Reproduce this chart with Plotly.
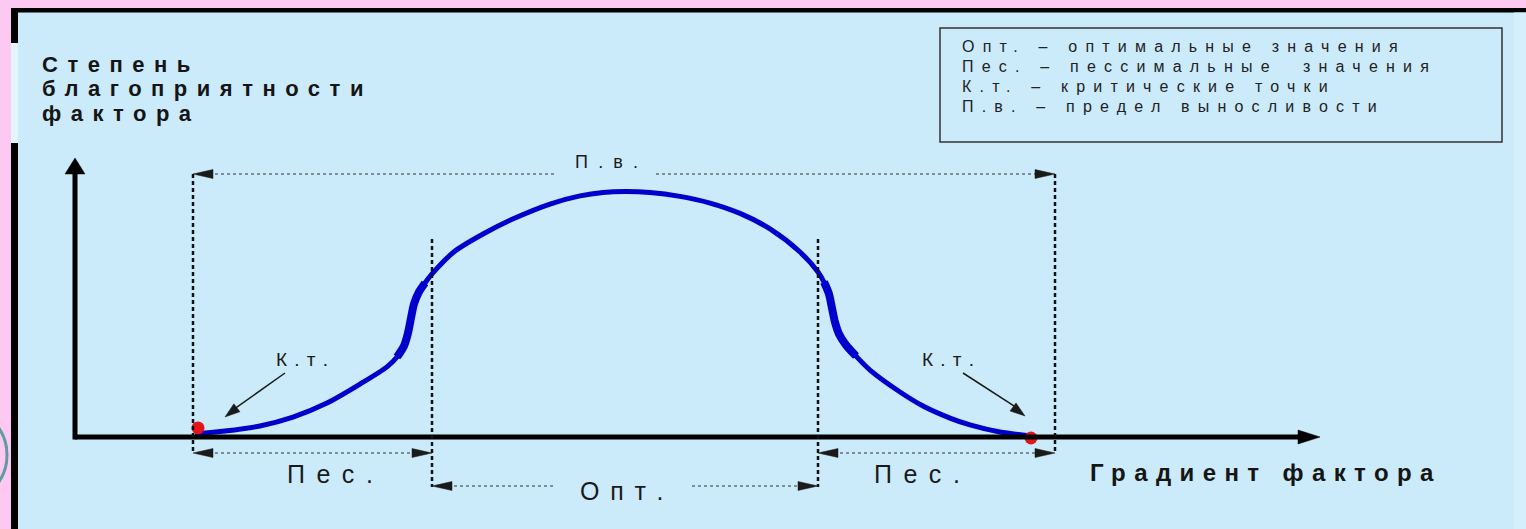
import plotly.graph_objects as go

# ---------------- data ----------------
# x: factor gradient (arbitrary units, 0 = vertical axis)
# y: degree of favourability (arbitrary units, 0 = horizontal axis, peak = 100)
gradient = [12.0, 15.0, 18.5, 21.8, 25.2, 28.5, 31.2, 32.2, 32.9, 33.3, 33.6, 33.9,
            34.4, 35.0, 35.7, 38.0, 40.8, 44.0, 47.5, 50.5, 52.8, 55.0, 57.5, 60.5,
            63.5, 66.5, 69.5, 72.5, 74.3, 74.9, 75.4, 75.7, 76.0, 76.4, 77.1, 78.1,
            79.5, 82.5, 84.8, 87.5, 89.5, 92.5, 95.6]
favourability = [1.2, 2.4, 4.5, 8.1, 13.8, 21.5, 28.5, 32.5, 37.0, 42.3, 48.4, 54.1,
                 59.0, 62.6, 66.3, 75.6, 82.5, 89.0, 94.7, 98.0, 99.4, 99.8, 99.4, 97.8,
                 95.1, 90.9, 84.6, 75.2, 67.1, 63.0, 58.1, 52.4, 46.7, 41.9, 37.4, 32.9,
                 27.2, 18.3, 12.6, 7.7, 4.9, 2.0, 0.4]
critical_x = [12.3, 95.6]
critical_y = [3.7, -0.4]
tolerance_limits = [11.8, 98.0]     # П.в.
optimum_bounds = [35.7, 74.3]       # Опт.
steep_zones = [[32.1, 35.1], [74.8, 78.2]]

y_title_lines = ["Степень", "благоприятности", "фактора"]
x_title = "Градиент фактора"
legend_lines = ["Опт. – оптимальные значения",
                "Пес. – пессимальные \u00a0значения",
                "К.т. – критические точки",
                "П.в. – предел выносливости"]
label_tolerance = "П.в."
label_pessimum = "Пес."
label_optimum = "Опт."
label_critical = "К.т."

# ---------------- layout geometry ----------------
W, H = 1526, 529
X0_PX, X_SCALE = 75.0, 10.0
Y0_PX, Y_SCALE = 437.0, 2.46

def ux(p): return (p - X0_PX) / X_SCALE
def uy(p): return (Y0_PX - p) / Y_SCALE
def px(u): return X0_PX + u * X_SCALE
def py(v): return Y0_PX - v * Y_SCALE
def fx(p): return p / W
def fy(p): return 1 - p / H

BLUE_BG = "#CCEBFA"
PINK = "#FDC8F1"
CURVE = "#0000CC"
RED = "#E3151B"
INK = "#1A1A1A"
FONT = "Liberation Sans"

shapes = []
annotations = []

def rect_px(x0, y0, x1, y1, color):
    shapes.append(dict(type="rect", xref="paper", yref="paper", x0=fx(x0), x1=fx(x1),
                       y0=fy(y1), y1=fy(y0), fillcolor=color, line=dict(width=0), layer="below"))

def line_px(x0, y0, x1, y1, color=INK, width=1, dash="solid"):
    shapes.append(dict(type="line", xref="x", yref="y", x0=ux(x0), y0=uy(y0), x1=ux(x1), y1=uy(y1),
                       line=dict(color=color, width=width, dash=dash), layer="above"))

def head_px(tx, ty, dx, dy, L, w, color=INK):
    n = (dx * dx + dy * dy) ** 0.5
    dx, dy = dx / n, dy / n
    bx, by = tx - dx * L, ty - dy * L
    ax_, ay_ = bx - dy * w, by + dx * w
    cx, cy = bx + dy * w, by - dx * w
    path = f"M {ux(tx)} {uy(ty)} L {ux(ax_)} {uy(ay_)} L {ux(cx)} {uy(cy)} Z"
    shapes.append(dict(type="path", xref="x", yref="y", path=path, fillcolor=color,
                       line=dict(color=color, width=0.5), layer="above"))

def spaced(text, sp):
    if not sp:
        return text
    return f'<span style="letter-spacing:{sp}px">{text[:-1]}</span>{text[-1]}'

def text_px(x, y, text, size, sp=0, bold=False, anchor="center", color=INK):
    t = spaced(text, sp)
    if bold:
        t = "<b>" + t + "</b>"
    annotations.append(dict(x=ux(x), y=uy(y), xref="x", yref="y", text=t, showarrow=False,
                            xanchor=anchor, yanchor="middle",
                            font=dict(family=FONT, size=size, color=color)))

# ---- frame ----
rect_px(0, 0, W, 8, PINK)
rect_px(0, 0, 11, H, PINK)
shapes.append(dict(type="circle", xref="paper", yref="paper", x0=fx(-89), x1=fx(7),
                   y0=fy(503), y1=fy(407), line=dict(color="#5E9C9F", width=3), layer="below"))
rect_px(11, 8, W, 12.5, "#000000")
rect_px(11, 8, 18, 43, "#000000")
rect_px(11, 43, 18, 143, "#E4F4FC")
rect_px(11, 143, 18, H, "#000000")
rect_px(1514, 12.5, W, H, "#D6EFFC")

# ---- axes with arrows ----
line_px(75, 437, 1302, 437, "#000000", 5)
head_px(1320, 437, 1, 0, 22, 7, "#000000")
line_px(75, 439.5, 75, 172, "#000000", 5)
head_px(75, 158, 0, -1, 16, 10, "#000000")

# ---- dashed vertical guides ----
lim_l, lim_r = px(tolerance_limits[0]), px(tolerance_limits[1])
opt_l, opt_r = px(optimum_bounds[0]), px(optimum_bounds[1])
for xg in (lim_l, lim_r):
    line_px(xg, 174, xg, 453, "#111111", 2.5, "4px,3px")
for xg in (opt_l, opt_r):
    line_px(xg, 239, xg, 487, "#111111", 2.5, "4px,3px")

# ---- dimension lines ----
DOT = "#333333"
# П.в.
line_px(lim_l + 4, 174, 556, 174, DOT, 1.2, "dot")
line_px(656, 174, lim_r - 4, 174, DOT, 1.2, "dot")
head_px(lim_l, 174, -1, 0, 20, 4.5)
head_px(lim_r, 174, 1, 0, 20, 4.5)
text_px(606, 162, label_tolerance, 18, 10.2)
# Пес. (left and right)
for a, b in ((lim_l, opt_l), (opt_r, lim_r)):
    line_px(a + 4, 453, b - 4, 453, DOT, 1.2, "dot")
    head_px(a, 453, -1, 0, 20, 4.5)
    head_px(b, 453, 1, 0, 20, 4.5)
text_px((lim_l + opt_l) / 2 + 17, 474, label_pessimum, 25, 11.5)
text_px((opt_r + lim_r) / 2 - 20, 474, label_pessimum, 25, 11.5)
# Опт.
line_px(opt_l + 4, 486, 556, 486, DOT, 1.2, "dot")
line_px(692, 486, opt_r - 4, 486, DOT, 1.2, "dot")
head_px(opt_l, 486, -1, 0, 20, 4.5)
head_px(opt_r, 486, 1, 0, 20, 4.5)
text_px(622, 491, label_optimum, 25, 10.7)

# ---- critical point pointers ----
cl_x, cl_y = px(critical_x[0]), py(critical_y[0])
cr_x, cr_y = px(critical_x[1]), py(critical_y[1])
text_px(302, 359, label_critical, 19, 7.2)
line_px(285, 373, cl_x + 35, cl_y - 18, INK, 1.5)
head_px(cl_x + 27, cl_y - 11, -60, 46, 15, 5)
text_px(948, 359, label_critical, 19, 7.2)
line_px(963, 373, cr_x - 14, cr_y - 30, INK, 1.5)
head_px(cr_x - 6, cr_y - 22, 60, 45, 15, 5)

# ---- titles ----
for i, t in enumerate(y_title_lines):
    text_px(40, 64 + i * 24.5, t, 22, 9.5, bold=True, anchor="left", color="#151515")
text_px(1088, 472, x_title, 24, 8.4, bold=True, anchor="left", color="#151515")

# ---- legend box ----
shapes.append(dict(type="rect", xref="x", yref="y", x0=ux(940), x1=ux(1502), y0=uy(142), y1=uy(28),
                   line=dict(color="#333333", width=1.5), fillcolor="rgba(0,0,0,0)", layer="above"))
for i, t in enumerate(legend_lines):
    text_px(960, 46 + i * 20, t, 16, 8.2, anchor="left", color="#222222")

# ---------------- figure ----------------
fig = go.Figure()
fig.add_trace(go.Scatter(x=gradient, y=favourability, mode="lines",
                         line=dict(color=CURVE, width=5, shape="spline", smoothing=0.8),
                         hoverinfo="skip"))
for z0, z1 in steep_zones:
    idx = [i for i, g in enumerate(gradient) if z0 <= g <= z1]
    fig.add_trace(go.Scatter(x=[gradient[i] for i in idx], y=[favourability[i] for i in idx],
                             mode="lines", line=dict(color=CURVE, width=8, shape="spline", smoothing=0.8),
                             hoverinfo="skip"))
fig.add_trace(go.Scatter(x=critical_x, y=critical_y, mode="markers",
                         marker=dict(color=RED, size=13, line=dict(width=0)), hoverinfo="skip"))

fig.update_layout(
    width=W, height=H, margin=dict(l=0, r=0, t=0, b=0, pad=0),
    paper_bgcolor=BLUE_BG, plot_bgcolor=BLUE_BG, showlegend=False,
    xaxis=dict(range=[ux(0), ux(W)], visible=False, fixedrange=True),
    yaxis=dict(range=[uy(H), uy(0)], visible=False, fixedrange=True),
    shapes=shapes, annotations=annotations,
)
fig.write_html("out.html", config={"displayModeBar": False},
               post_script="document.body.style.margin='0';document.body.style.padding='0';")
